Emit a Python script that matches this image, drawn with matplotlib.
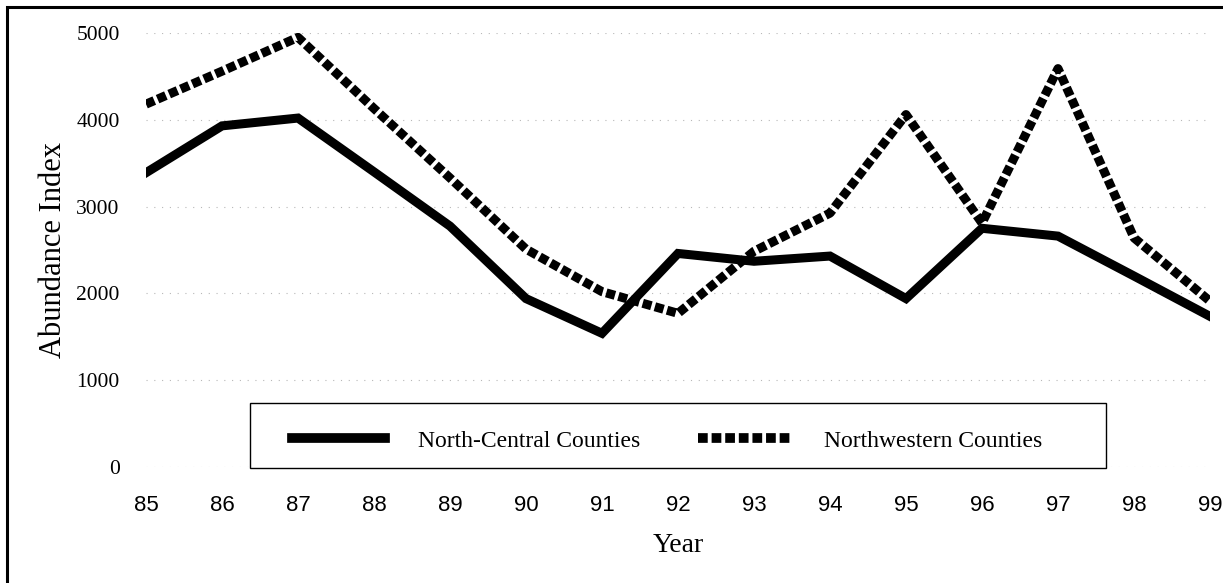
import matplotlib
matplotlib.use("Agg")
import matplotlib.pyplot as plt
from matplotlib.patches import Rectangle

# data
years = [85, 86, 87, 88, 89, 90, 91, 92, 93, 94, 95, 96, 97, 98, 99]
year_labels = [str(y) for y in years]
north_central = [3390, 3930, 4020, 3400, 2775, 1940, 1540, 2460, 2370, 2430, 1940, 2750, 2660, 2200, 1735]
northwestern = [4180, 4560, 4950, 4130, 3330, 2510, 2020, 1770, 2485, 2925, 4060, 2810, 4590, 2640, 1910]
y_ticks = [0, 1000, 2000, 3000, 4000, 5000]

serif = "Liberation Serif"
sans = "Liberation Sans"

fig = plt.figure(figsize=(12.23, 5.83), dpi=100)
ax = fig.add_axes([146 / 1223, 0.199, 1064 / 1223, 0.7444])

# lines
ax.plot(years, north_central, color="black", lw=6.5, solid_joinstyle="miter",
        label="North-Central Counties")
ax.plot(years, northwestern, color="black", lw=6.5, linestyle=(0, (1.0, 0.4)),
        dash_capstyle="butt", label="Northwestern Counties")

ax.set_xlim(85, 99)
ax.set_ylim(0, 5000)
ax.set_xticks(years)
ax.set_xticklabels(year_labels, fontfamily=sans, fontsize=16)
ax.set_yticks(y_ticks)
ax.set_yticklabels([str(v) for v in y_ticks], fontfamily=serif, fontsize=15.5)
ax.tick_params(axis="x", length=0, pad=20)
ax.tick_params(axis="y", length=0, pad=19)

# faint dotted gridlines
ax.yaxis.grid(True, color="#b8b8b8", linestyle=(0, (1, 6)), lw=0.8)
ax.set_axisbelow(True)
for s in ax.spines.values():
    s.set_visible(False)

ax.set_ylabel("Abundance Index", fontfamily=serif, fontsize=22)
ax.yaxis.set_label_coords(-0.073, 0.5)
ax.set_xlabel("Year", fontfamily=serif, fontsize=20)
ax.xaxis.set_label_coords(0.5, -0.152)

# legend box
ax.add_patch(Rectangle((0.0977, -0.002), 0.8045, 0.149, transform=ax.transAxes,
                       fill=True, facecolor="white", edgecolor="black", lw=1.0,
                       clip_on=False, zorder=3))
leg = ax.legend(loc="center left", bbox_to_anchor=(0.1372, 0.06), ncol=2,
                frameon=False, borderpad=0, borderaxespad=0,
                handlelength=3.94, handletextpad=1.4, columnspacing=2.46,
                prop={"family": serif, "size": 17})
leg.set_zorder(4)
for ln in leg.get_lines():
    ln.set_linewidth(7)

# outer border of the figure
fig.add_artist(Rectangle((7 / 1223, -0.1), 1.2, 1.1 - 7 / 583,
                         transform=fig.transFigure, fill=False,
                         edgecolor="black", lw=2.2))

fig.savefig("out.png", dpi=100)
